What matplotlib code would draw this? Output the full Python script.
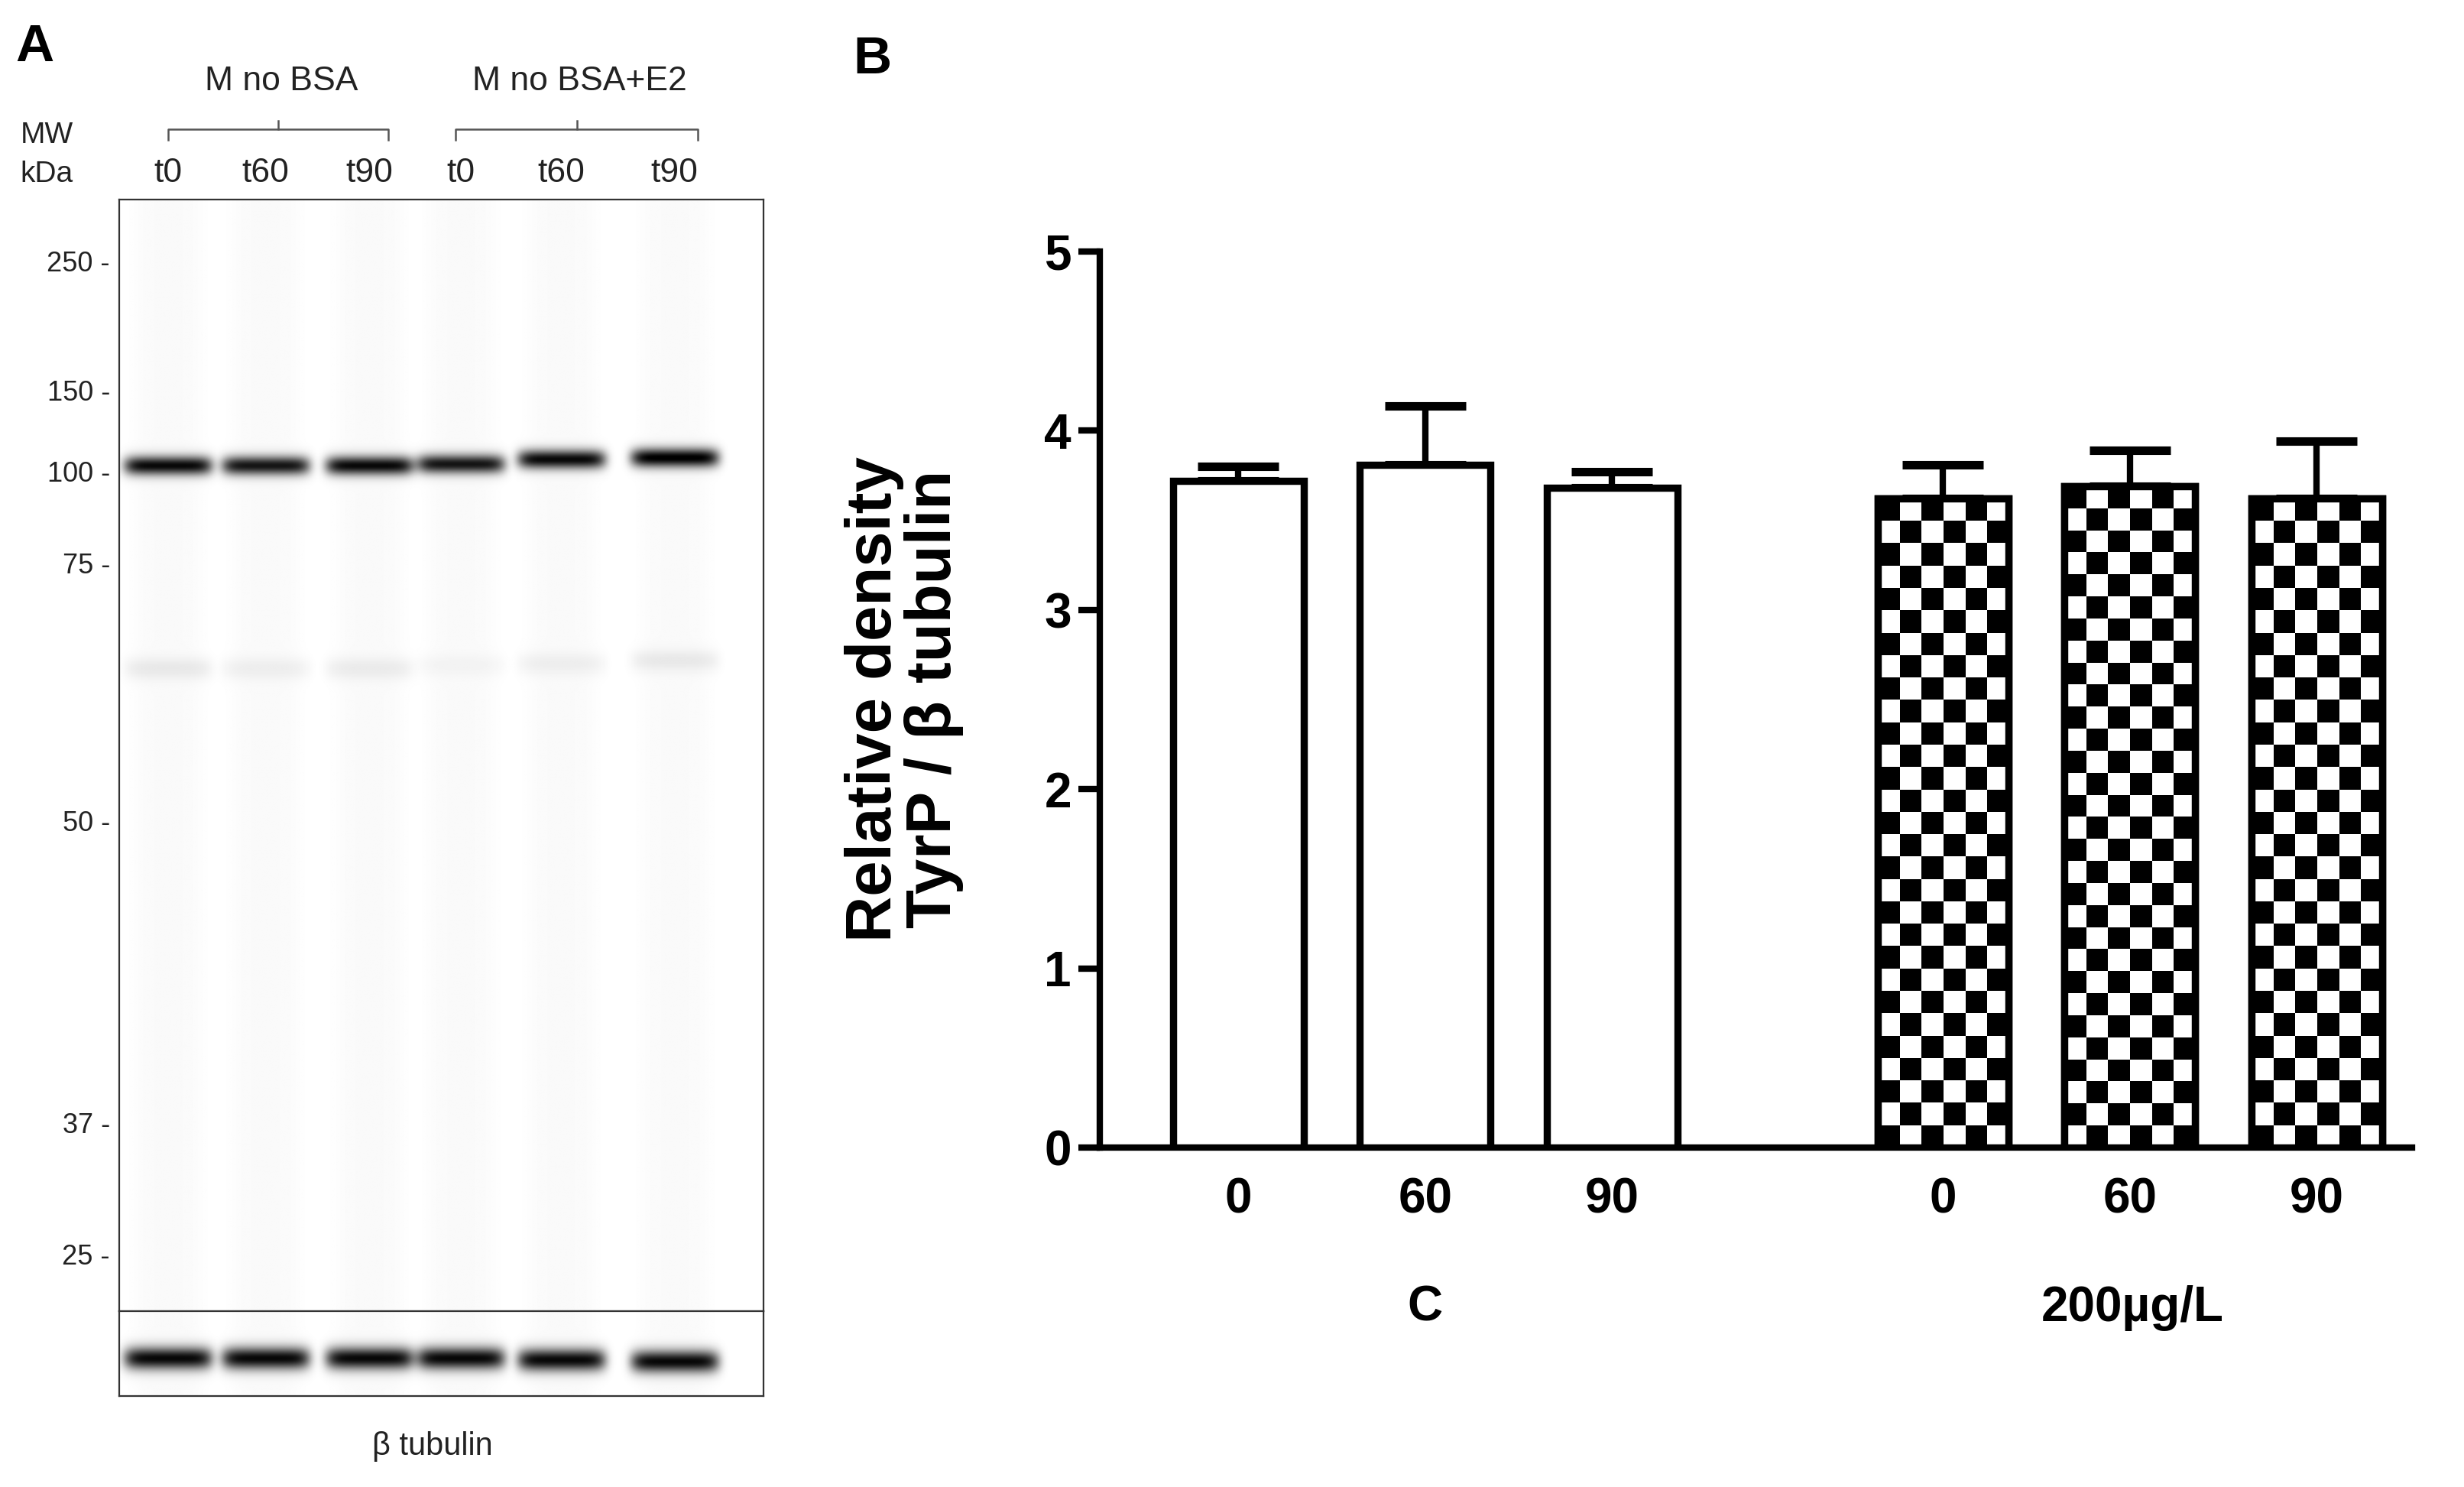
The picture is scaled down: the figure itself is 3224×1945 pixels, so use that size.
import numpy as np
import matplotlib
matplotlib.use("Agg")
import matplotlib.pyplot as plt
from matplotlib.patches import Rectangle

plt.rcParams['font.family'] = ['Liberation Sans', 'DejaVu Sans']

# ---- panel A data (blot) ----
lanes = ['t0', 't60', 't90', 't0', 't60', 't90']
lane_x = [107, 169, 235, 293, 357, 429]          # lane centres (page px)
main_band_y = [296, 296, 296, 295, 292, 291]
main_band_int = [0.95, 0.9, 0.95, 0.9, 0.95, 1.0]
faint_band_y = [425, 425, 425, 423, 422, 420]
faint_band_int = [0.07, 0.05, 0.06, 0.03, 0.05, 0.07]
tub_band_y = [864, 864, 864, 864, 865, 866]
mw_labels = ['250', '150', '100', '75', '50', '37', '25']
mw_y = [168, 250, 302, 360, 524, 716, 800]
groups_a = ['M no BSA', 'M no BSA+E2']

# ---- panel B data ----
times = ['0', '60', '90', '0', '60', '90']
means = [3.72, 3.81, 3.68, 3.62, 3.69, 3.62]
sems = [0.08, 0.33, 0.09, 0.19, 0.20, 0.32]
xpos = [0, 1, 2, 3.77, 4.77, 5.77]
checker = [False, False, False, True, True, True]
groups_b = ['C', '200µg/L']

W, H = 1568, 946
fig = plt.figure(figsize=(16.12, 9.725), dpi=200)

# overlay for page-coordinate texts
ov = fig.add_axes([0, 0, 1, 1])
ov.set_xlim(0, W); ov.set_ylim(H, 0); ov.axis('off')


def fa(x0, y0, x1, y1):
    return [x0 / W, 1 - y1 / H, (x1 - x0) / W, (y1 - y0) / H]


def blot(ax, y0, y1, bands):
    xs = np.arange(76, 486, 0.5)
    ys = np.arange(y0, y1, 0.5)
    X, Y = np.meshgrid(xs, ys)
    img = np.zeros_like(X)
    for cx in lane_x:
        img += 0.02 * np.exp(-((X - cx) / 22) ** 4)
    for cx, by, inten, th in bands:
        img += inten * np.exp(-((X - cx) / 28) ** 8) * np.exp(-((Y - by) / th) ** 2)
    img = np.clip(img, 0, 1)
    ax.imshow(1 - img, cmap='gray', vmin=0, vmax=1, extent=(76, 486, y1, y0),
              aspect='auto', interpolation='bilinear')
    ax.set_xlim(76, 486); ax.set_ylim(y1, y0)
    ax.set_xticks([]); ax.set_yticks([])
    for s in ax.spines.values():
        s.set_linewidth(0.8); s.set_color('#333333')


axm = fig.add_axes(fa(76, 127, 486, 834))
bands = [(cx, by, it, 6) for cx, by, it in zip(lane_x, main_band_y, main_band_int)]
bands += [(cx, by, it, 7) for cx, by, it in zip(lane_x, faint_band_y, faint_band_int)]
blot(axm, 127, 834, bands)
axt = fig.add_axes(fa(76, 834, 486, 888))
blot(axt, 834, 888, [(cx, by, 0.95, 7) for cx, by in zip(lane_x, tub_band_y)])

txt = dict(color='#222222', family=['Liberation Sans Narrow', 'Liberation Sans'])
for lab, y in zip(mw_labels, mw_y):
    ov.text(70, y, lab + ' -', ha='right', va='center', fontsize=13, **txt)
for lab, x in zip(lanes, lane_x):
    ov.text(x, 110, lab, ha='center', va='center', fontsize=16, **txt)
ov.text(13, 86, 'MW', ha='left', va='center', fontsize=14, **txt)
ov.text(13, 111, 'kDa', ha='left', va='center', fontsize=14, **txt)
for g, (a, b) in zip(groups_a, [(lane_x[0], lane_x[2] + 12), (lane_x[3] - 3, lane_x[5] + 15)]):
    m = (a + b) / 2
    ov.plot([a, a, b, b], [89, 82, 82, 89], color='#555555', lw=0.9)
    ov.plot([m, m], [82, 77], color='#555555', lw=0.9)
    ov.text(m + 2, 52, g, ha='center', va='center', fontsize=16, **txt)
ov.text(275, 920, 'β tubulin', ha='center', va='center', fontsize=15, **txt)
ov.text(10, 30, 'A', fontsize=25, fontweight='bold', va='center')
ov.text(543, 38, 'B', fontsize=25, fontweight='bold', va='center')

# ---- panel B ----
ax = fig.add_axes(fa(700, 160, 1535, 730))
bw = 0.7
for x, m, e, ch in zip(xpos, means, sems, checker):
    ax.errorbar(x, m, yerr=[[0], [e]], color='black', lw=3, capsize=19, capthick=4, zorder=2)
    r = Rectangle((x - bw / 2, 0), bw, m, facecolor='white', edgecolor='black', lw=3.4, zorder=3)
    ax.add_patch(r)
    if ch:
        nx = 6
        ny = int(round(m / 5 * 570 / (84 / nx)))
        pat = (np.add.outer(np.arange(ny), np.arange(nx)) % 2).astype(float)
        im = ax.imshow(pat, cmap='gray', extent=(x - bw / 2, x + bw / 2, 0, m),
                       aspect='auto', interpolation='nearest', zorder=3.5)
        im.set_clip_path(r)
        ax.add_patch(Rectangle((x - bw / 2, 0), bw, m, facecolor='none',
                               edgecolor='black', lw=3.4, zorder=4))
ax.set_aspect('auto')
ax.set_xlim(-0.74, 6.28)
ax.set_ylim(0, 5)
ax.spines['top'].set_visible(False)
ax.spines['right'].set_visible(False)
for s in ['left', 'bottom']:
    ax.spines[s].set_linewidth(3)
ax.set_yticks(range(6))
ax.set_xticks(xpos)
ax.set_xticklabels(times)
ax.tick_params(width=3, length=10, labelsize=23)
ax.tick_params(axis='x', length=0, pad=14)
for t in ax.get_xticklabels() + ax.get_yticklabels():
    t.set_fontweight('bold')
ax.set_ylabel('Relative density\nTyrP / β tubulin', fontsize=30, fontweight='bold', labelpad=38,
              linespacing=1.0)
ov.text(907, 832, groups_b[0], fontsize=23, fontweight='bold', ha='center', va='center')
ov.text(1357, 832, groups_b[1], fontsize=23, fontweight='bold', ha='center', va='center')

fig.savefig('out.png', dpi=200)
